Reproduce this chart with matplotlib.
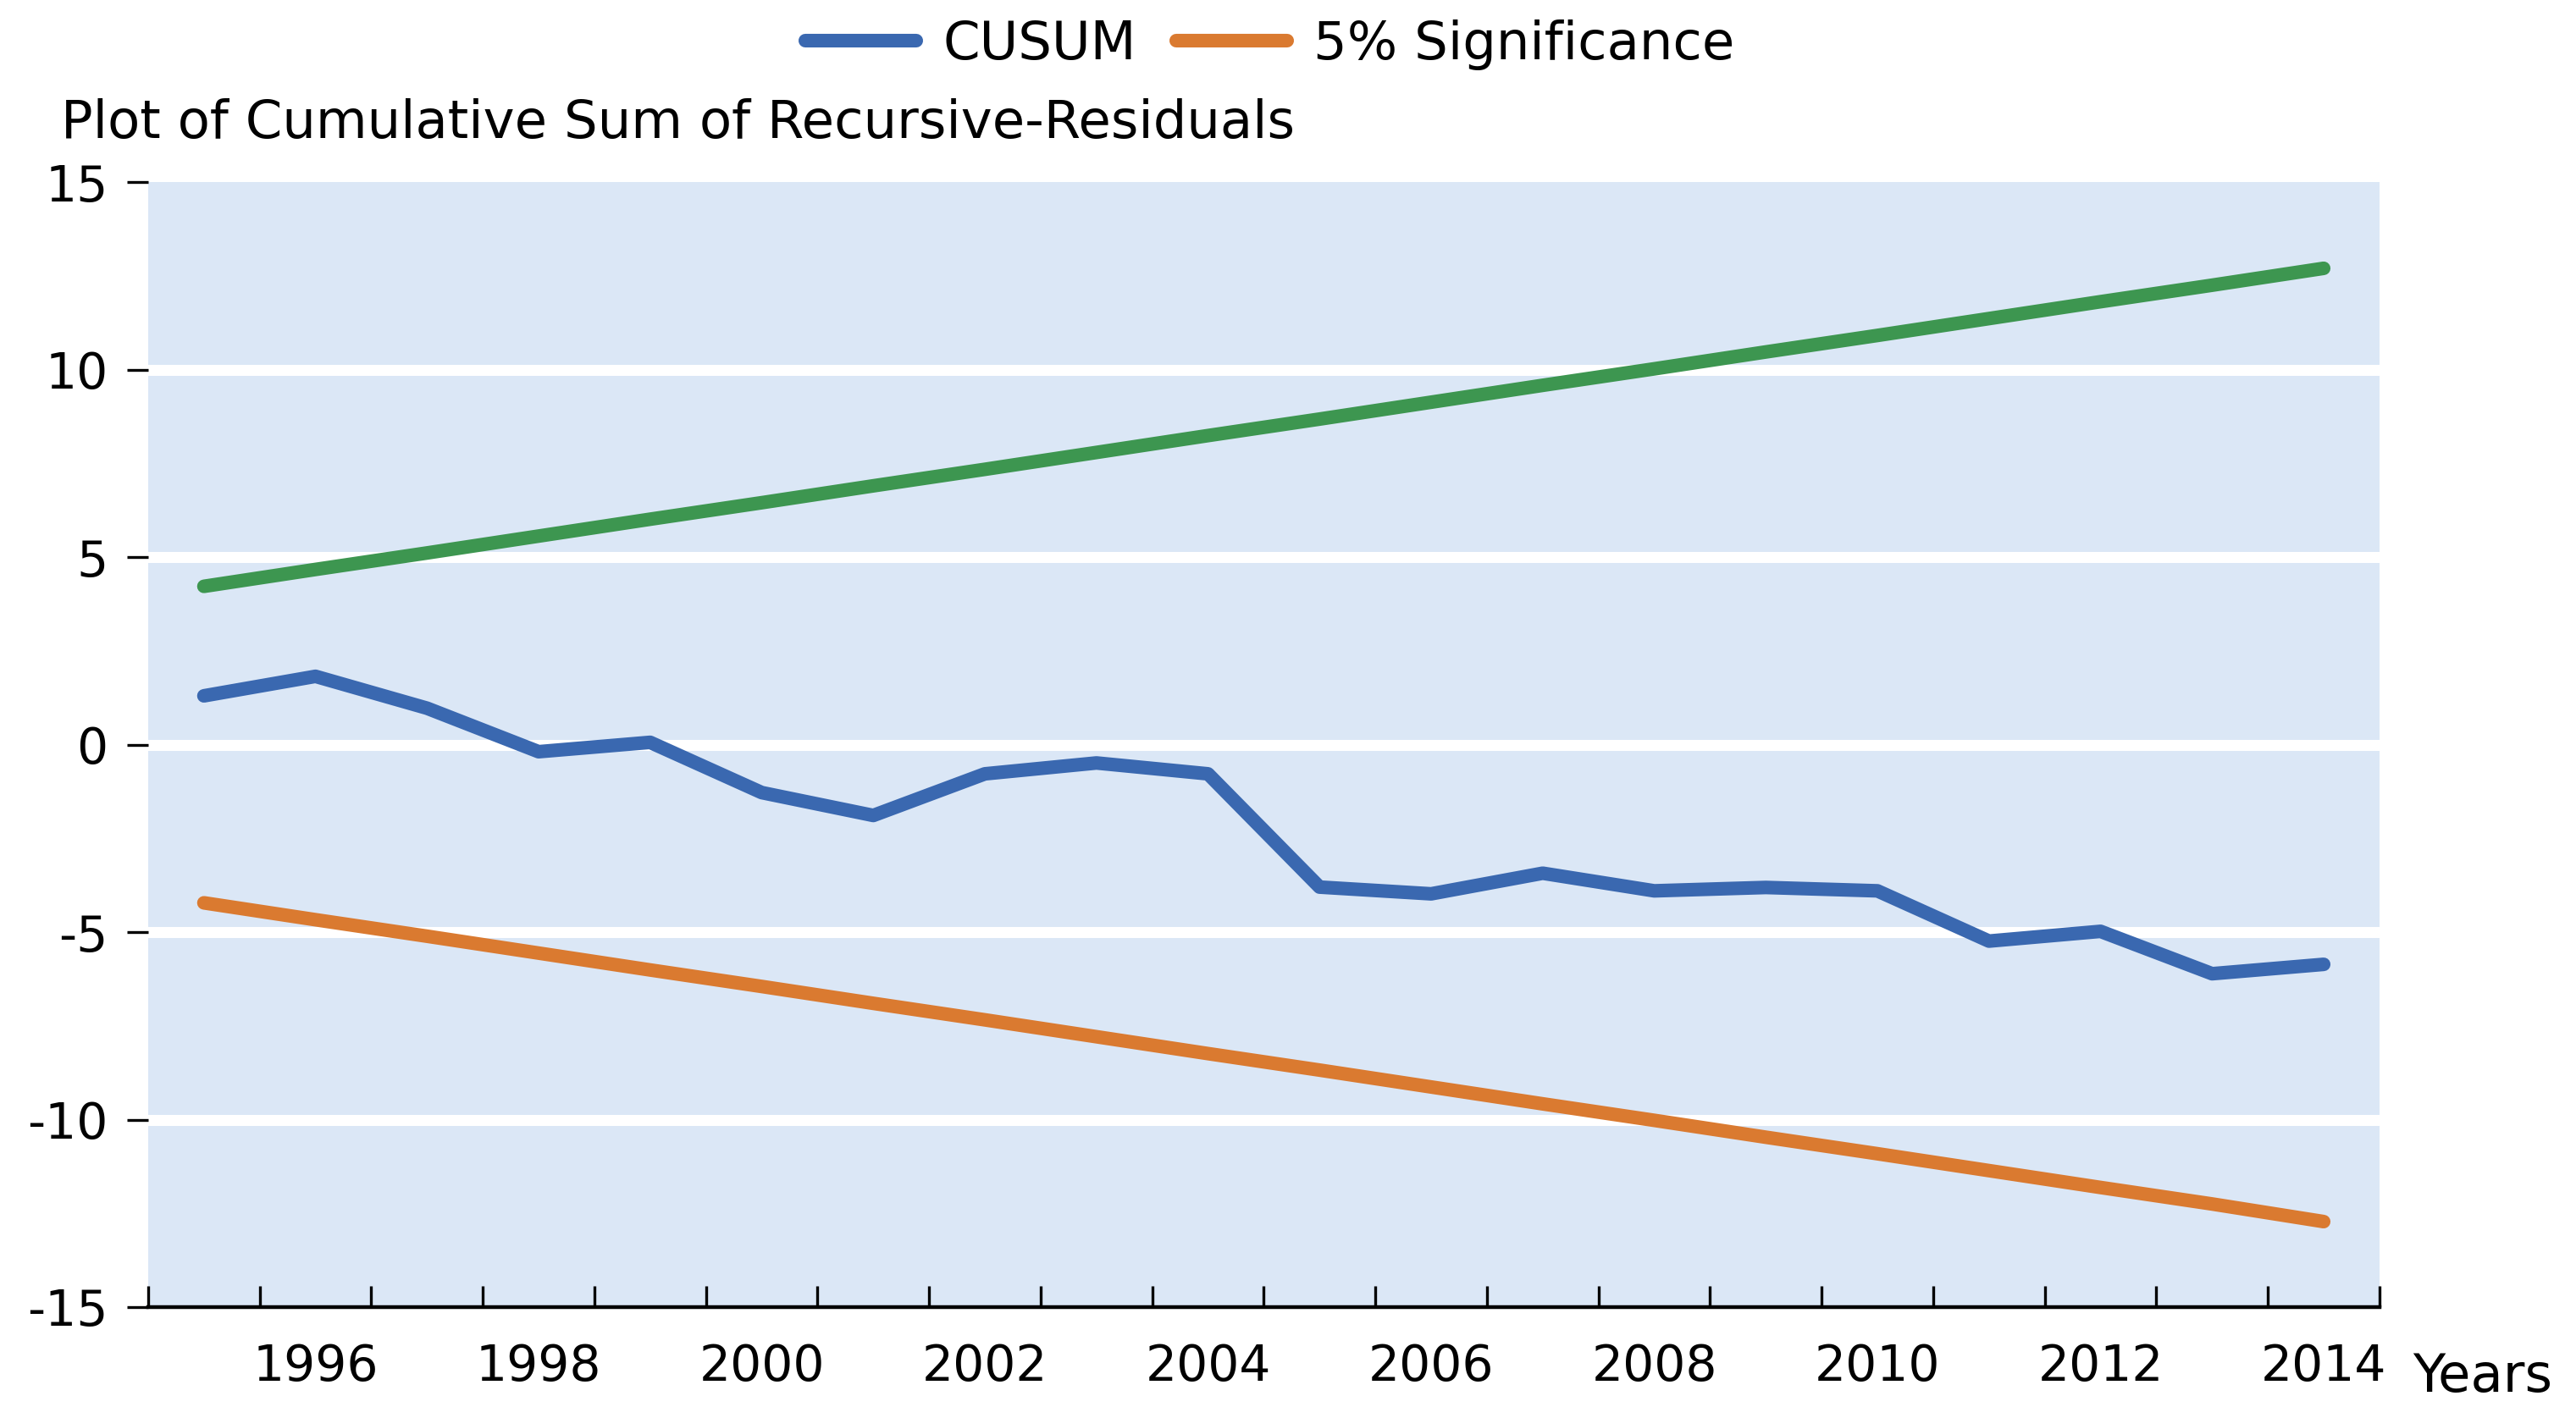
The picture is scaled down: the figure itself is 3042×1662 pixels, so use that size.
import numpy as np
import matplotlib.pyplot as plt

plt.rcParams['font.family'] = ['DejaVu Sans']
plt.rcParams['axes.unicode_minus'] = False

# Data
years = list(range(1995, 2015))
cusum = [1.30, 1.82, 0.97, -0.19, 0.06, -1.28, -1.89, -0.78, -0.49, -0.78,
         -3.80, -3.98, -3.43, -3.90, -3.81, -3.90, -5.24, -4.98, -6.11, -5.86]
upper = [4.22, 4.67, 5.11, 5.56, 6.01, 6.45, 6.90, 7.34, 7.79, 8.24,
         8.68, 9.13, 9.58, 10.02, 10.47, 10.91, 11.36, 11.81, 12.25, 12.70]
lower = [-4.22, -4.67, -5.11, -5.56, -6.01, -6.45, -6.90, -7.34, -7.79, -8.24,
         -8.68, -9.13, -9.58, -10.02, -10.47, -10.91, -11.36, -11.81, -12.25, -12.72]
y_ticks = [-15, -10, -5, 0, 5, 10, 15]
x_labels = [str(y) for y in years[1::2]]

blue = '#3A68B0'
orange = '#DA7A30'
green = '#3D9650'
bg = '#DBE7F6'
fs = 21
fs_big = 22.5

fig = plt.figure(figsize=(15.21, 8.31), dpi=200)
ax = fig.add_axes([0.0575, 0.071, 0.8662, 0.7996])
ax.set_facecolor(bg)

x = np.arange(len(years))
ax.plot(x, upper, color=green, lw=5.8, solid_capstyle='round', zorder=3)
ax.plot(x, lower, color=orange, lw=5.8, solid_capstyle='round', zorder=3,
        label='5% Significance')
ax.plot(x, cusum, color=blue, lw=5.8, solid_capstyle='round', zorder=4,
        label='CUSUM')

ax.set_xlim(-0.5, len(years) - 0.5)
ax.set_ylim(-15, 15)

# y axis
ax.set_yticks(y_ticks)
ax.set_yticklabels([str(v) for v in y_ticks], fontsize=fs)
ax.tick_params(axis='y', direction='out', length=9, width=1.2, pad=8)
ax.yaxis.grid(True, color='white', lw=4.7)
gl = ax.get_ygridlines()
gl[0].set_visible(False)
gl[-1].set_visible(False)
ax.set_axisbelow(True)

# x axis: ticks between categories, labels every other year
ax.set_xticks(np.arange(-0.5, len(years), 1.0))
ax.set_xticklabels([])
ax.tick_params(axis='x', which='major', direction='in', length=9, width=1.2)
ax.set_xticks(x[1::2], minor=True)
ax.set_xticklabels(x_labels, minor=True, fontsize=fs)
ax.tick_params(axis='x', which='minor', length=0, pad=15)

for s in ['top', 'right', 'left']:
    ax.spines[s].set_visible(False)
ax.spines['bottom'].set_linewidth(1.6)

fig.text(0.0237, 0.912, 'Plot of Cumulative Sum of Recursive-Residuals',
         fontsize=fs_big, va='center', ha='left')
fig.text(0.9365, 0.021, 'Years', fontsize=fs_big, va='center', ha='left')

h, l = ax.get_legend_handles_labels()
fig.legend(h[::-1], l[::-1], loc='center', bbox_to_anchor=(0.493, 0.968),
           ncol=2, frameon=False, fontsize=fs_big, handlelength=2.1,
           handletextpad=0.5, columnspacing=0.75)

fig.savefig('out.png', dpi=200)
